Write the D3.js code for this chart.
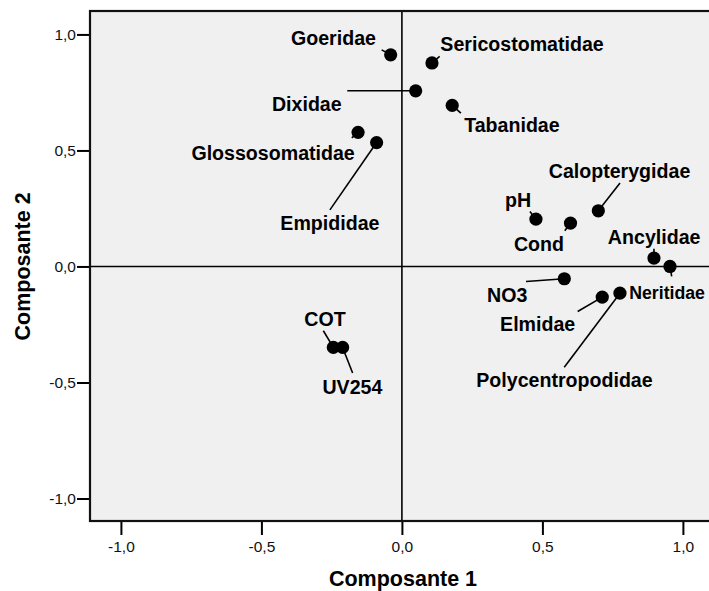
<!DOCTYPE html>
<html>
<head>
<meta charset="utf-8">
<script src="https://cdn.jsdelivr.net/npm/d3@7"></script>
<style>
  html, body { margin: 0; padding: 0; background: #ffffff; }
  svg { display: block; }
  text { font-family: Arial, "Liberation Sans", sans-serif; }
</style>
</head>
<body>
<svg id="chart" width="709" height="591"></svg>
<script>
// ---- Data (component loadings) ----
const names = ["Goeridae", "Sericostomatidae", "Dixidae", "Tabanidae", "Glossosomatidae", "Empididae",
  "Calopterygidae", "pH", "Cond", "Ancylidae", "Neritidae", "NO3", "Elmidae", "Polycentropodidae", "COT", "UV254"];
const comp1 = [-0.040, 0.107, 0.049, 0.179, -0.156, -0.090, 0.699, 0.477, 0.600, 0.897, 0.954, 0.578, 0.713, 0.776, -0.244, -0.211];
const comp2 = [0.912, 0.877, 0.757, 0.694, 0.578, 0.534, 0.240, 0.204, 0.187, 0.036, 0.000, -0.053, -0.132, -0.115, -0.349, -0.349];
const xTicks = [-1.0, -0.5, 0.0, 0.5, 1.0];
const yTicks = [-1.0, -0.5, 0.0, 0.5, 1.0];
const xTitle = "Composante 1";
const yTitle = "Composante 2";

// ---- Label layout (pixel offsets from each point: anchor, text x, baseline y, leader end) ----
const labelLayout = {
  "Goeridae":          ["end",    -14.7, -10.0,  -9.0,  -5.0],
  "Sericostomatidae":  ["start",    8.4, -11.6,   7.7,  -6.6],
  "Dixidae":           ["end",    -74.0,  19.7, -68.4,   0.0],
  "Tabanidae":         ["start",   12.0,  27.0,   8.7,   7.6],
  "Glossosomatidae":   ["end",     -3.3,  28.0,  -6.3,   5.6],
  "Empididae":         ["middle", -46.7,  87.3, -46.7,  67.3],
  "Calopterygidae":    ["middle",  21.2, -32.7,  21.7, -27.7],
  "pH":                ["start",  -31.0, -12.6,  -6.0,  -7.6],
  "Cond":              ["middle", -31.5,  28.4,  -5.7,   7.7],
  "Ancylidae":         ["middle",   0.2, -14.0,   0.0,  -9.3],
  "Neritidae":         ["start",  -40.7,  32.3,   1.7,  10.0],
  "NO3":               ["end",    -37.0,  23.3, -38.3,   2.7],
  "Elmidae":           ["middle", -64.6,  34.4, -24.6,  14.4],
  "Polycentropodidae": ["middle", -55.5,  94.0, -55.7,  74.0],
  "COT":               ["middle",  -8.3, -21.7, -10.0, -16.7],
  "UV254":             ["middle",   9.8,  46.3,  10.0,  25.6]
};

const points = names.map((n, i) => ({ name: n, c1: comp1[i], c2: comp2[i] }));

const svg = d3.select("#chart");
const W = 709;
const pLeft = 90, pTop = 11, pBottom = 521, pRight = 711;
const labelSize = 19.6;

const x = d3.scaleLinear().domain([-1.11, 1.10]).range([pLeft, pRight]);
const y = d3.scaleLinear().domain([-1.097, 1.101]).range([pBottom, pTop]);

const loc = d3.formatLocale({ decimal: ",", thousands: ".", grouping: [3], currency: ["", ""], minus: "-" });
const fmt = loc.format(".1f");

// plot background
svg.append("rect")
  .attr("x", pLeft).attr("y", pTop)
  .attr("width", 720 - pLeft).attr("height", pBottom - pTop)
  .attr("fill", "#f0f0f0");

// zero reference lines
svg.append("line")
  .attr("x1", pLeft).attr("x2", 720)
  .attr("y1", y(0)).attr("y2", y(0))
  .attr("stroke", "#000").attr("stroke-width", 1.6);
svg.append("line")
  .attr("x1", x(0)).attr("x2", x(0))
  .attr("y1", pTop).attr("y2", pBottom)
  .attr("stroke", "#000").attr("stroke-width", 1.6);

// axes
const gx = svg.append("g")
  .attr("transform", `translate(0,${pBottom})`)
  .call(d3.axisBottom(x).tickValues(xTicks).tickFormat(fmt).tickSize(14).tickPadding(6));
const gy = svg.append("g")
  .attr("transform", `translate(${pLeft},0)`)
  .call(d3.axisLeft(y).tickValues(yTicks).tickFormat(fmt).tickSize(13).tickPadding(1));
[gx, gy].forEach(g => {
  g.select(".domain").remove();
  g.selectAll(".tick line").attr("stroke", "#000").attr("stroke-width", 2);
  g.selectAll(".tick text").attr("fill", "#111").style("font-size", "15.5px")
    .style("font-family", "Arial, 'Liberation Sans', sans-serif");
});

// plot border
svg.append("rect")
  .attr("x", pLeft).attr("y", pTop)
  .attr("width", 730 - pLeft).attr("height", pBottom - pTop)
  .attr("fill", "none").attr("stroke", "#111").attr("stroke-width", 2.2);

// leader lines
svg.append("g").selectAll("line").data(points).join("line")
  .attr("x1", d => x(d.c1)).attr("y1", d => y(d.c2))
  .attr("x2", d => x(d.c1) + labelLayout[d.name][3])
  .attr("y2", d => y(d.c2) + labelLayout[d.name][4])
  .attr("stroke", "#000").attr("stroke-width", 1.6);

// points
svg.append("g").selectAll("circle").data(points).join("circle")
  .attr("cx", d => x(d.c1)).attr("cy", d => y(d.c2))
  .attr("r", 6.6).attr("fill", "#000");

// labels
const labels = svg.append("g").selectAll("text").data(points).join("text")
  .attr("x", d => x(d.c1) + labelLayout[d.name][1])
  .attr("y", d => y(d.c2) + labelLayout[d.name][2])
  .attr("text-anchor", d => labelLayout[d.name][0])
  .style("font-size", labelSize + "px").style("font-weight", "bold").attr("fill", "#000")
  .text(d => d.name);

// shrink any label that would run past the right edge so it stays inside the picture
labels.each(function() {
  const b = this.getBBox();
  const limit = W - 4;
  if (b.x + b.width > limit) {
    const k = (limit - b.x) / b.width;
    d3.select(this).style("font-size", (labelSize * k).toFixed(2) + "px");
  }
});

// axis titles
svg.append("text")
  .attr("x", 403).attr("y", 586)
  .attr("text-anchor", "middle")
  .style("font-size", "21.5px").style("font-weight", "bold").attr("fill", "#000")
  .text(xTitle);
svg.append("text")
  .attr("transform", `translate(30,${y(0)}) rotate(-90)`)
  .attr("text-anchor", "middle")
  .style("font-size", "21.5px").style("font-weight", "bold").attr("fill", "#000")
  .text(yTitle);
</script>
</body>
</html>
